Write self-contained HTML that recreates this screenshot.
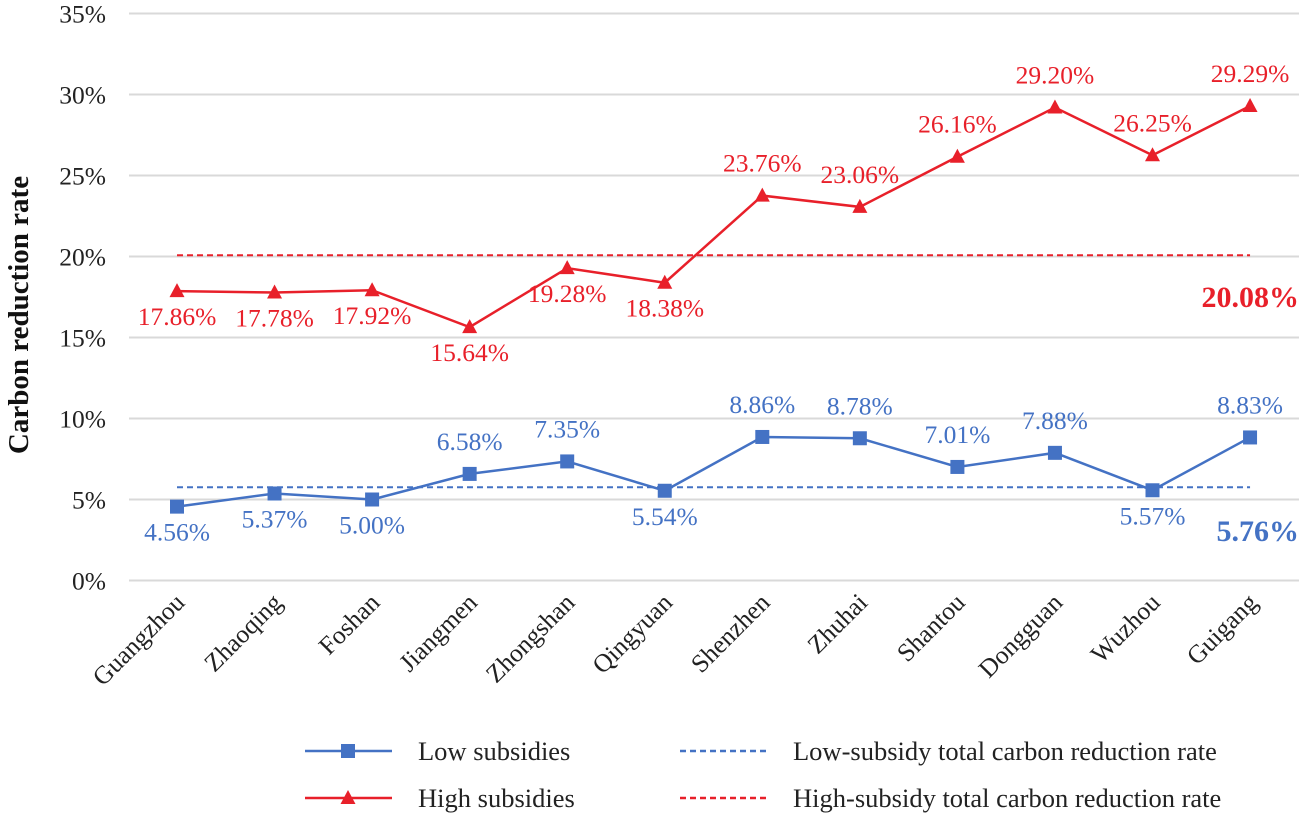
<!DOCTYPE html>
<html><head><meta charset="utf-8"><style>
body{margin:0;background:#fff;}
svg{display:block;font-family:"Liberation Serif",serif;}
</style></head><body>
<svg id="chart" width="1301" height="815" viewBox="0 0 1301 815"></svg>
<script>
const categories=["Guangzhou","Zhaoqing","Foshan","Jiangmen","Zhongshan","Qingyuan","Shenzhen","Zhuhai","Shantou","Dongguan","Wuzhou","Guigang"];
const lowValues=[4.56,5.37,5.00,6.58,7.35,5.54,8.86,8.78,7.01,7.88,5.57,8.83];
const highValues=[17.86,17.78,17.92,15.64,19.28,18.38,23.76,23.06,26.16,29.20,26.25,29.29];
const lowLabelBelow=[1,1,1,0,0,1,0,0,0,0,1,0];
const highLabelBelow=[1,1,1,1,1,1,0,0,0,0,0,0];
const lowTotal=5.76;
const highTotal=20.08;
const yTicks=[0,5,10,15,20,25,30,35];
const NS="http://www.w3.org/2000/svg";
const svg=document.getElementById('chart');
const x0=177,xStep=97.55,y0=580.5,yPer=16.2;
const X=i=>x0+i*xStep;
const Y=v=>y0-v*yPer;
function mk(tag,attrs,parent){const e=document.createElementNS(NS,tag);for(const k in attrs)e.setAttribute(k,attrs[k]);(parent||svg).appendChild(e);return e;}
const grid=mk('g',{});


yTicks.forEach(t=>{
  const l=mk('line',{x1:129,x2:1299,y1:Y(t),y2:Y(t),stroke:'#d9d9d9','stroke-width':2},grid);
  
  
  const tx=mk('text',{x:106,y:Y(t)+9,'text-anchor':'end','font-size':25.5,fill:'#222'},grid);
  tx.textContent=t+'%';
  
  
});
const yt=mk('text',{x:0,y:0,'text-anchor':'middle','font-size':29,'font-weight':'bold',fill:'#111',transform:'translate(28,315) rotate(-90)'});
yt.textContent='Carbon reduction rate';


categories.forEach((c,i)=>{
  const t=mk('text',{x:0,y:0,'text-anchor':'end','font-size':25.5,fill:'#222',transform:`translate(${X(i)+9},${604}) rotate(-45)`});
  t.textContent=c;
  
  
});
[[lowTotal,'#4472c4','low'],[highTotal,'#e8202a','high']].forEach(([v,col,n])=>{
  const l=mk('line',{x1:X(0),x2:X(categories.length-1),y1:Y(v),y2:Y(v),stroke:col,'stroke-width':2,'stroke-dasharray':'6,4'});
  
  
  const t=mk('text',{x:1299,y:Y(v)+(n=='low'?54:52),'text-anchor':'end','font-size':30,'font-weight':'bold',fill:col});
  t.textContent=v.toFixed(2)+'%';
  
  
});
function series(vals,below,col,name,marker){
  const g=mk('g',{});
  
  
  const p=mk('polyline',{points:vals.map((v,i)=>X(i)+','+Y(v)).join(' '),fill:'none',stroke:col,'stroke-width':2.5},g);
  
  
  vals.forEach((v,i)=>{
    const x=X(i),y=Y(v);
    let m;
    if(marker=='sq') m=mk('rect',{x:x-7,y:y-7,width:14,height:14,fill:col},g);
    else m=mk('polygon',{points:`${x},${y-8} ${x+7.5},${y+6} ${x-7.5},${y+6}`,fill:col},g);
    
    
    const t=mk('text',{x:x,y:below[i]?y+34:y-24,'text-anchor':'middle','font-size':25.5,fill:col},g);
    t.textContent=v.toFixed(2)+'%';
    
    
  });
}
series(lowValues,lowLabelBelow,'#4472c4','low-subsidies','sq');
series(highValues,highLabelBelow,'#e8202a','high-subsidies','tri');
const lg=mk('g',{});


const items=[[305,751,'#4472c4','sq','Low subsidies',0],[305,798,'#e8202a','tri','High subsidies',0],[680,751,'#4472c4',null,'Low-subsidy total carbon reduction rate',1],[680,798,'#e8202a',null,'High-subsidy total carbon reduction rate',1]];
items.forEach(([x,y,col,mkr,label,dash])=>{
  const e=mk('g',{},lg);
  
  
  mk('line',{x1:x,x2:x+87,y1:y,y2:y,stroke:col,'stroke-width':2.5,'stroke-dasharray':dash?'6,4':'none'},e);
  const cx=x+43;
  if(mkr=='sq') mk('rect',{x:cx-7,y:y-7,width:14,height:14,fill:col},e);
  if(mkr=='tri') mk('polygon',{points:`${cx},${y-8} ${cx+7.5},${y+6} ${cx-7.5},${y+6}`,fill:col},e);
  const t=mk('text',{x:x+113,y:y+9,'font-size':26.5,fill:'#222'},e);
  t.textContent=label;
});
</script>
</body></html>
